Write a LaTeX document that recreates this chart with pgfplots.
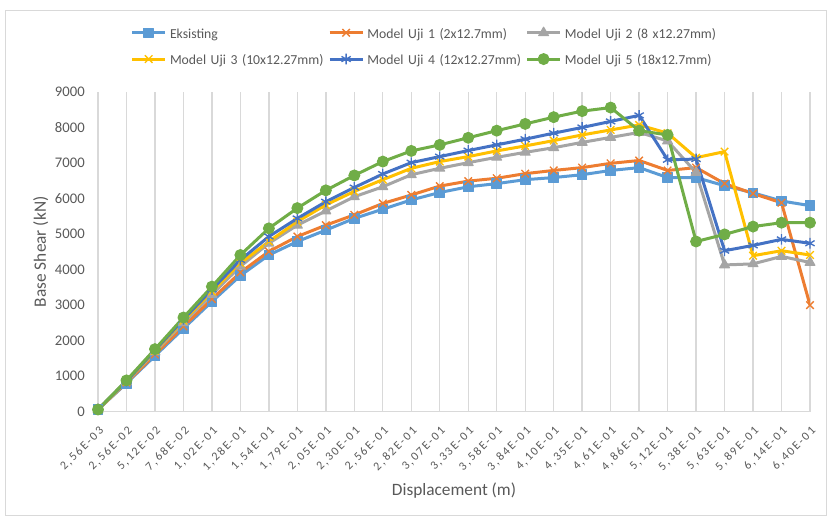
\documentclass[border=0pt]{standalone}
\usepackage{fontspec}
\setmainfont{Carlito}
\newfontfamily\tickfont[LetterSpace=15.5]{Carlito}
\usepackage{pgfplots}
\usepackage{pgfplotstable}
\pgfplotsset{compat=1.18}
\definecolor{txt}{RGB}{89,89,89}
\definecolor{gridc}{RGB}{217,217,217}
\definecolor{cA}{RGB}{91,155,213}
\definecolor{cB}{RGB}{237,125,49}
\definecolor{cC}{RGB}{165,165,165}
\definecolor{cD}{RGB}{255,192,0}
\definecolor{cE}{RGB}{68,114,196}
\definecolor{cF}{RGB}{112,173,71}
\pgfplotstableread{
i  A    B    C    D    E    F
0  60   60   60   60   60   60
1  800  820  840  850  860  880
2  1570 1610 1680 1710 1730 1760
3  2340 2400 2500 2560 2600 2650
4  3100 3170 3300 3380 3440 3520
5  3830 3920 4090 4180 4270 4410
6  4410 4510 4740 4790 4930 5160
7  4790 4930 5250 5350 5440 5730
8  5110 5250 5650 5820 5910 6230
9  5440 5540 6050 6200 6310 6650
10 5700 5860 6330 6530 6690 7040
11 5960 6100 6670 6850 7010 7340
12 6170 6350 6850 7040 7180 7510
13 6330 6490 7010 7180 7350 7710
14 6420 6570 7160 7340 7510 7910
15 6530 6700 7300 7480 7670 8100
16 6590 6790 7430 7630 7840 8290
17 6670 6870 7580 7790 8000 8460
18 6790 6990 7720 7930 8170 8560
19 6870 7070 7860 8070 8340 7910
20 6590 6790 7620 7840 7090 7790
21 6590 6870 6730 7150 7110 4790
22 6360 6420 4130 7320 4530 4990
23 6160 6140 4160 4390 4680 5210
24 5930 5880 4370 4530 4850 5320
25 5800 3000 4200 4410 4740 5320
}\data
\begin{document}
\begin{tikzpicture}
\path[use as bounding box] (0,0) rectangle (620.25pt,387.75pt);
\draw[gridc, line width=0.75pt] (3.75pt,1.5pt) rectangle (619.5pt,379.5pt);
\begin{axis}[
  at={(73.5pt,79pt)}, anchor=south west,
  scale only axis, width=534pt, height=239.8pt,
  xmin=0, xmax=25, ymin=0, ymax=9000,
  xtick={0,...,25},
  xticklabels={{2,56E-03},{2,56E-02},{5,12E-02},{7,68E-02},{1,02E-01},{1,28E-01},{1,54E-01},{1,79E-01},{2,05E-01},{2,30E-01},{2,56E-01},{2,82E-01},{3,07E-01},{3,33E-01},{3,58E-01},{3,84E-01},{4,10E-01},{4,35E-01},{4,61E-01},{4,86E-01},{5,12E-01},{5,38E-01},{5,63E-01},{5,89E-01},{6,14E-01},{6,40E-01}},
  ytick={0,1000,...,9000},
  xmajorgrids, grid style={draw=gridc, line width=1pt},
  major tick length=0pt,
  axis x line*=bottom, axis y line*=left,
  x axis line style={draw=gridc, line width=1pt, -},
  y axis line style={draw=none},
  /pgf/number format/1000 sep={},
  /pgf/number format/assume math mode=true,
  yticklabel style={font=\fontsize{11}{12}\selectfont, text=txt, inner sep=0pt, xshift=-9.75pt},
  xticklabel style={font=\tickfont\fontsize{9}{10}\selectfont, text=txt, inner sep=0pt, xshift=3pt, yshift=-13pt, rotate=45, anchor=east},
  ylabel={Base Shear (kN)},
  ylabel style={at={([xshift=-43pt]rel axis cs:0,0.5)}, anchor=center, font=\fontsize{13}{15}\selectfont, text=txt},
  xlabel={Displacement (m)},
  xlabel style={at={([yshift=-59.5pt]rel axis cs:0.5,0)}, anchor=center, font=\fontsize{13}{15}\selectfont, text=txt},
  legend columns=3,
  legend cell align=left,
  legend style={at={(rel axis cs:0,1)}, anchor=north west, xshift=24.5pt, yshift=50.1pt,
    draw=none, fill=none, inner sep=0pt, outer sep=0pt,
    font=\fontsize{10.3}{12}\selectfont, text=txt, row sep=8.2pt,
    nodes={inner sep=0pt},
    /tikz/every odd column/.append style={column sep=2.5pt},
    /tikz/every even column/.append style={text width=118.6pt, align=left, text height=10pt, text depth=3pt}},
  legend image code/.code={\draw[#1, mark repeat=2, mark phase=2] plot coordinates {(0pt,0pt) (12.375pt,0pt) (24.75pt,0pt)};},
  every axis plot/.append style={line width=2.25pt, line join=round},
]
\addplot[color=cA, mark=square*, mark size=3.6pt, mark options={solid, fill=cA, line width=0.75pt}] table[x=i,y=A]{\data};
\addlegendentry{\mbox{Eksisting}}
\addplot[color=cB, mark=x, mark size=4pt, mark options={solid, line width=1pt}] table[x=i,y=B]{\data};
\addlegendentry{\mbox{Model Uji 1 (2x12.7mm)}}
\addplot[color=cC, mark=triangle*, mark size=4.3pt, mark options={solid, fill=cC, line width=0.75pt}] table[x=i,y=C]{\data};
\addlegendentry{\mbox{Model Uji 2 (8 x12.27mm)}}
\addplot[color=cD, mark=x, mark size=4pt, mark options={solid, line width=1pt}] table[x=i,y=D]{\data};
\addlegendentry{\mbox{Model Uji 3 (10x12.27mm)}}
\addplot[color=cE, mark=asterisk, mark size=4pt, mark options={solid, line width=1pt}] table[x=i,y=E]{\data};
\addlegendentry{\mbox{Model Uji 4 (12x12.27mm)}}
\addplot[color=cF, mark=*, mark size=4.1pt, mark options={solid, fill=cF, line width=0.75pt}] table[x=i,y=F]{\data};
\addlegendentry{\mbox{Model Uji 5 (18x12.7mm)}}
\end{axis}
\end{tikzpicture}
\end{document}
